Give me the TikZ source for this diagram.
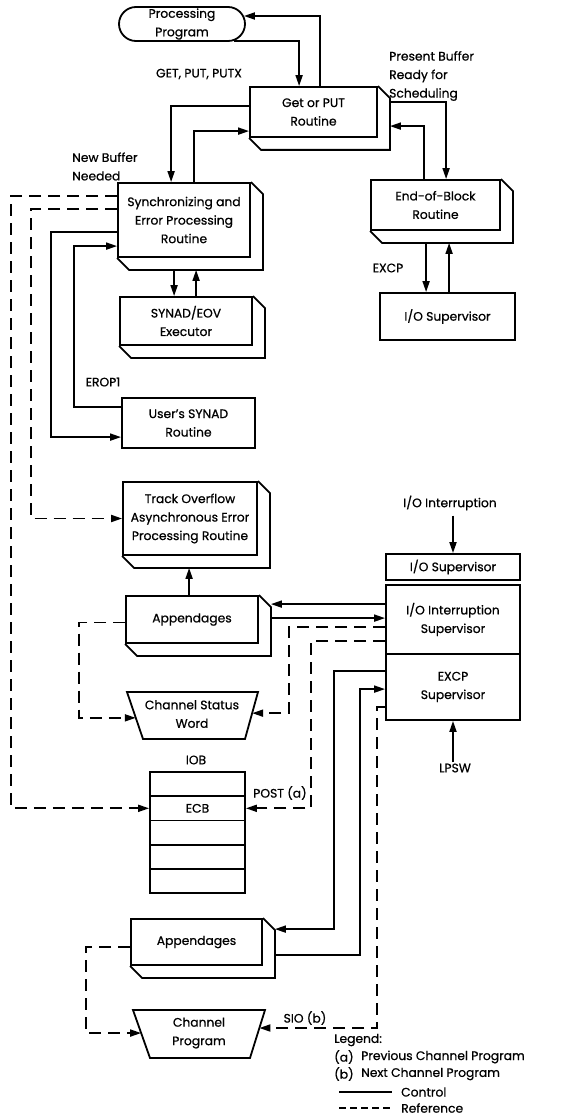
\documentclass[tikz,border=0pt]{standalone}
\usepackage{fontspec}
\setmainfont{Poppins}[FakeBold=0.7]
\usetikzlibrary{arrows.meta,calc}

\tikzset{
  lw/.style={line width=1.8pt},
  ctl/.style={lw, -{Triangle[length=11pt,width=7pt]}},
  ref/.style={lw, dash pattern=on 12pt off 7pt, -{Triangle[length=11pt,width=7pt]}},
  box/.style={draw, lw, align=center, inner sep=0pt, fill=white},
  lbl/.style={inner sep=1pt},
  every node/.append style={font=\fontsize{12.3}{18.5}\selectfont}
}

% extrusion drawn down and to the right of a box
\newcommand{\extrude}[1]{%
  \draw[lw] (#1.north east) -- ++(12,12) |- ($(#1.south west)+(12,12)$) -- (#1.south west);}

\begin{document}
\begin{tikzpicture}[x=1pt,y=-1pt]
\useasboundingbox (0,0) rectangle (565,1118);

% ---- boxes ----
\node[box, rounded corners=17pt, minimum width=126pt, minimum height=34pt] (prog) at (182,24) {Processing\\Program};
\node[box, minimum width=127pt, minimum height=50pt] (getput) at (313.5,112) {Get or PUT\\Routine};
\node[box, minimum width=132pt, minimum height=74pt] (sync) at (184,220) {Synchronizing and\\Error Processing\\Routine};
\node[box, minimum width=132pt, minimum height=48pt] (synad) at (186,321) {SYNAD/EOV\\Executor};
\node[box, minimum width=133pt, minimum height=50pt] (user) at (188.5,423) {User's SYNAD\\Routine};
\node[box, minimum width=134pt, minimum height=73pt] (track) at (190,518.5) {Track Overflow\\Asynchronous Error\\Processing Routine};
\node[box, minimum width=132pt, minimum height=47pt] (appa) at (192,619.5) {Appendages};
\node[box, minimum width=129pt, minimum height=50pt] (eob) at (435.5,205) {End-of-Block\\Routine};
\node[box, minimum width=135pt, minimum height=47pt] (iosup) at (447.5,316.5) {I/O Supervisor};
\node[box, minimum width=131pt, minimum height=46pt] (appb) at (196.5,942) {Appendages};

\foreach \b in {getput,sync,synad,track,appa,eob,appb} {\extrude{\b}}

% supervisor stack
\node[box, minimum width=134pt, minimum height=26pt] (hdr) at (453,567) {I/O Supervisor};
\node[box, minimum width=134pt, minimum height=69pt] (iis) at (453,619.5) {I/O Interruption\\Supervisor};
\node[box, minimum width=134pt, minimum height=66pt] (excp) at (453,687) {EXCP\\Supervisor};

% IOB with its ECB
\node[box, minimum width=95pt, minimum height=24.2pt] (iob1) at (197.5,784.1) {};
\node[box, minimum width=95pt, minimum height=24.2pt] (ecb)  at (197.5,808.3) {ECB};
\node[box, minimum width=95pt, minimum height=24.2pt] (iob3) at (197.5,832.5) {};
\node[box, minimum width=95pt, minimum height=24.2pt] (iob4) at (197.5,856.7) {};
\node[box, minimum width=95pt, minimum height=24.2pt] (iob5) at (197.5,880.9) {};

% channel status word
\coordinate (cswTL) at (127,692);
\coordinate (cswTR) at (258,692);
\coordinate (cswBR) at (245,739);
\coordinate (cswBL) at (143,739);
\draw[lw] (cswTL) -- (cswTR) -- (cswBR) -- (cswBL) -- cycle;
\node[align=center] (csw) at (192,714) {Channel Status\\Word};
\coordinate (cswL) at ($(cswTL)!0.55!(cswBL)$);
\coordinate (cswR) at ($(cswTR)!0.45!(cswBR)$);

% channel program
\coordinate (cpTL) at (133,1010);
\coordinate (cpTR) at (265,1010);
\coordinate (cpBR) at (250,1058);
\coordinate (cpBL) at (150,1058);
\draw[lw] (cpTL) -- (cpTR) -- (cpBR) -- (cpBL) -- cycle;
\node[align=center] (cp) at (199,1033) {Channel\\Program};
\coordinate (cpL) at ($(cpTL)!0.48!(cpBL)$);
\coordinate (cpR) at ($(cpTR)!0.375!(cpBR)$);

% ---- labels ----
\node[lbl] (lget) at (199,74) {GET, PUT, PUTX};
\node[lbl, anchor=west, align=left] (lpres) at (388,76) {Present Buffer\\Ready for\\Scheduling};
\node[lbl, anchor=west, align=left] (lnew) at (71,166.5) {New Buffer\\Needed};
\node[lbl] (lexcp) at (388,268) {EXCP};
\node[lbl] (lerop) at (103,382) {EROP1};
\node[lbl] (lioint) at (450,503) {I/O Interruption};
\node[lbl] (llpsw) at (455,768) {LPSW};
\node[lbl] (liob) at (196,760) {IOB};
\node[lbl] (lpost) at (280,793) {POST (a)};
\node[lbl] (lsio) at (305,1018) {SIO (b)};

% ---- control flow ----
\draw[ctl] ($(getput.north west)+(71,0)$) |- ($(prog.east)+(-2,-8)$);
\draw[ctl] ($(prog.south east)+(-12,-1)$) -| ($(getput.north west)+(50,0)$);
\draw[ctl] ($(getput.north east)+(12,16)$) -| ($(eob.north west)+(76,0)$);
\draw[ctl] ($(eob.north west)+(54,0)$) |- ($(getput.north east)+(12,40)$);
\draw[ctl] ($(getput.north west)+(0,20)$) -| ($(sync.north west)+(54,0)$);
\draw[ctl] ($(sync.north west)+(77,0)$) |- ($(getput.north west)+(0,45)$);
\draw[ctl] ($(sync.south west)+(57,12)$) -- ($(synad.north west)+(55,0)$);
\draw[ctl] ($(synad.north west)+(77,0)$) -- ($(sync.south west)+(79,12)$);
\draw[ctl] ($(sync.north west)+(0,50)$) -- ++(-66,0) |- ($(user.north west)+(0,40)$);
\draw[ctl] ($(user.north west)+(0,10)$) -- ++(-47,0) |- ($(sync.north west)+(0,64)$);
\draw[ctl] ($(eob.south west)+(56,12)$) -- ($(iosup.north west)+(47,0)$);
\draw[ctl] ($(iosup.north west)+(70,0)$) -- ($(eob.south west)+(79,12)$);
\draw[ctl] ($(hdr.north |- lioint.south)+(0,4)$) -- (hdr.north);
\draw[ctl] (excp.south |- llpsw.north) -- (excp.south);
\draw[ctl] ($(appa.north west)+(64,0)$) -- ($(track.south west)+(67,12)$);
\draw[ctl] ($(iis.north west)+(0,20)$) -- ($(appa.north east)+(12,9)$);
\draw[ctl] ($(appa.north east)+(12,23)$) -- ($(iis.north west)+(0,34)$);
\draw[ctl] ($(excp.north west)+(0,18)$) -- ++(-51,0) |- ($(appb.north east)+(12,11)$);
\draw[ctl] ($(appb.north east)+(12,37)$) -- ++(85,0) |- ($(excp.north west)+(0,36)$);

% ---- references ----
\draw[ref] ($(sync.north west)+(0,14)$) -- ++(-106,0) |- (ecb.west);
\draw[ref] ($(sync.north west)+(0,27)$) -- ++(-86,0) |- (track.west);
\draw[ref] ($(iis.north west)+(0,43)$) -- ++(-96,0) |- (cswR);
\draw[ref] ($(iis.north west)+(0,57)$) -- ++(-74,0) |- (ecb.east);
\draw[ref] ($(appa.west)+(0,3)$) -- ++(-46,0) |- (cswL);
\draw[ref] ($(excp.north west)+(0,54)$) -- ++(-8,0) |- (cpR);
\draw[ref] ($(appb.west)+(0,5)$) -- ++(-44,0) |- (cpL);

% ---- legend ----
\node[lbl, anchor=west] (leg) at (333,1040) {Legend:};
\node[lbl, anchor=west] (lega) at (333,1057) {(a)};
\node[lbl, anchor=west] (legat) at (360,1057) {Previous Channel Program};
\node[lbl, anchor=west] (legb) at (333,1074) {(b)};
\node[lbl, anchor=west] (legbt) at (360,1074) {Next Channel Program};
\node[lbl, anchor=west] (legc) at (400,1092) {Control};
\node[lbl, anchor=west] (legr) at (400,1108) {Reference};
\draw[lw] ($(legc.west)+(-61,0)$) -- ($(legc.west)+(-8,0)$);
\draw[lw, dash pattern=on 7pt off 4pt] ($(legr.west)+(-61,0)$) -- ($(legr.west)+(-8,0)$);
\end{tikzpicture}
\end{document}
